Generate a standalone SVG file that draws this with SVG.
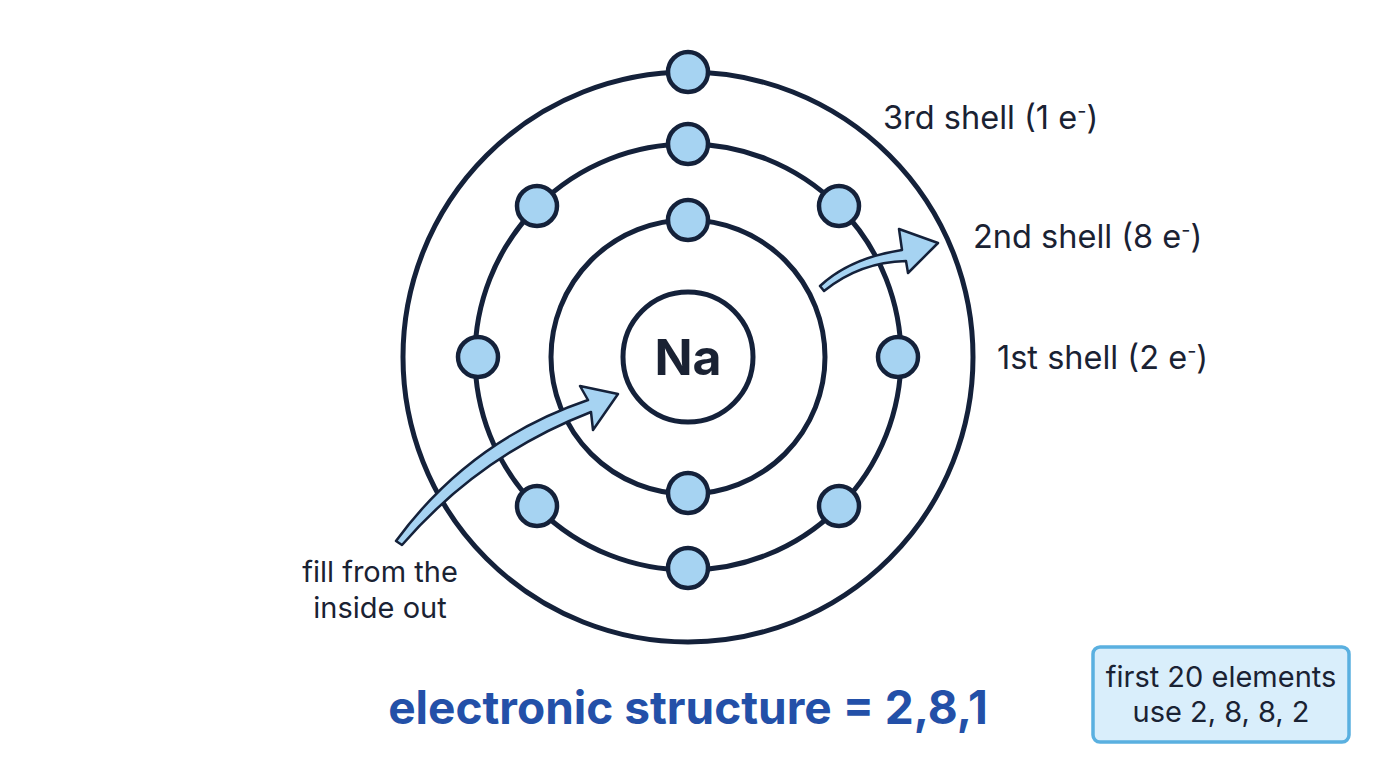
<svg xmlns="http://www.w3.org/2000/svg" width="1376" height="768" viewBox="0 0 1376 768">
<style>
.sh{fill:none;stroke:#14213a;stroke-width:5}
.e{fill:#a6d3f2;stroke:#14213a;stroke-width:4.5}
.t{font-family:Inter,"Liberation Sans",sans-serif;fill:#1a2233}
.ar{fill:#a6d3f2;stroke:#14213a;stroke-width:2.5;stroke-linejoin:round}
</style>
<rect width="1376" height="768" fill="#fff"/>
<g id="shells">
<circle class="sh" cx="688" cy="357" r="285"/>
<circle class="sh" cx="688" cy="357" r="213"/>
<circle class="sh" cx="688" cy="357" r="137"/>
</g>
<g id="nucleus"><circle class="sh" cx="688" cy="357" r="65"/>
<text class="t" x="688" y="375" font-size="50" font-weight="bold" text-anchor="middle">Na</text></g>
<g id="electrons">
<circle class="e" cx="688" cy="72" r="20"/>
<circle class="e" cx="688" cy="144" r="20"/>
<circle class="e" cx="537" cy="206" r="20"/>
<circle class="e" cx="839" cy="206" r="20"/>
<circle class="e" cx="478" cy="357" r="20"/>
<circle class="e" cx="898" cy="357" r="20"/>
<circle class="e" cx="537" cy="506" r="20"/>
<circle class="e" cx="839" cy="506" r="20"/>
<circle class="e" cx="688" cy="568" r="20"/>
<circle class="e" cx="688" cy="220" r="20"/>
<circle class="e" cx="688" cy="493" r="20"/>
</g>
<g id="connectors">
<path class="ar" d="M396,541 Q470,440 588,400 L580,386 L618,394 L593,430 L591,412 Q480,455 402,545 Z"/>
<path class="ar" d="M820,286 Q850,258 902,250 L899,229 L938,243 L908,273 L906,261 Q860,262 824,291 Z"/>
</g>
<g id="labels">
<text class="t" x="883" y="129" font-size="32.5">3rd shell (1 e<tspan font-size="20" dy="-11">-</tspan><tspan dy="11">)</tspan></text>
<text class="t" x="973" y="248" font-size="32.5">2nd shell (8 e<tspan font-size="20" dy="-11">-</tspan><tspan dy="11">)</tspan></text>
<text class="t" x="997" y="369" font-size="32.5">1st shell (2 e<tspan font-size="20" dy="-11">-</tspan><tspan dy="11">)</tspan></text>
<text class="t" x="380" y="582" font-size="29" text-anchor="middle">fill from the</text>
<text class="t" x="380" y="618" font-size="29" text-anchor="middle">inside out</text>
<text x="688" y="724" font-size="46" font-weight="bold" text-anchor="middle" fill="#2350a8" font-family="Inter,'Liberation Sans',sans-serif">electronic structure = 2,8,1</text>
</g>
<g id="note">
<rect x="1093" y="647" width="256" height="95" rx="7" fill="#d9eefb" stroke="#5ab0e0" stroke-width="3.5"/>
<text class="t" x="1221" y="687" font-size="29" text-anchor="middle">first 20 elements</text>
<text class="t" x="1221" y="722" font-size="29" text-anchor="middle">use 2, 8, 8, 2</text>
</g>
</svg>
